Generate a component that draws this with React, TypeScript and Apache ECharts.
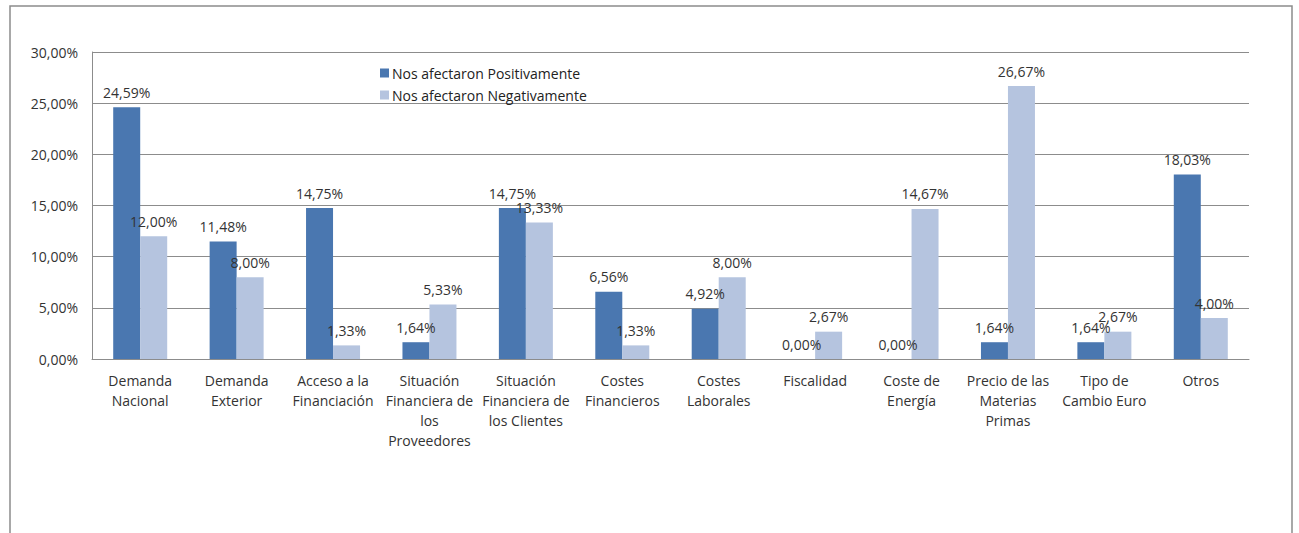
import React, { useEffect, useRef } from "react";
import * as echarts from "echarts";

const categories = [
  "Demanda\nNacional",
  "Demanda\nExterior",
  "Acceso a la\nFinanciación",
  "Situación\nFinanciera de\nlos\nProveedores",
  "Situación\nFinanciera de\nlos Clientes",
  "Costes\nFinancieros",
  "Costes\nLaborales",
  "Fiscalidad",
  "Coste de\nEnergía",
  "Precio de las\nMaterias\nPrimas",
  "Tipo de\nCambio Euro",
  "Otros",
];
const positivos = [24.59, 11.48, 14.75, 1.64, 14.75, 6.56, 4.92, 0.0, 0.0, 1.64, 1.64, 18.03];
const negativos = [12.0, 8.0, 1.33, 5.33, 13.33, 1.33, 8.0, 2.67, 14.67, 26.67, 2.67, 4.0];
const seriesNames = ["Nos afectaron Positivamente", "Nos afectaron Negativamente"];

const FONT = "'Open Sans', 'Noto Sans', sans-serif";
const fmt = (v: number) => v.toFixed(2).replace(".", ",") + "%";

export default function App() {
  const ref = useRef<HTMLDivElement>(null);
  useEffect(() => {
    document.body.style.margin = "0";
    const chart = echarts.init(ref.current!, null, { renderer: "svg" });
    const label = {
      show: true,
      position: "top" as const,
      distance: 8,
      color: "#333",
      fontFamily: FONT,
      fontSize: 14,
      formatter: (p: any) => fmt(p.value),
    };
    chart.setOption({
      animation: false,
      backgroundColor: "#fff",
      textStyle: { fontFamily: FONT },
      graphic: [
        {
          type: "rect",
          shape: { x: 10, y: 6, width: 1282, height: 540 },
          style: { fill: "none", stroke: "#8c8c8c", lineWidth: 1.5 },
          silent: true,
        },
      ],
      legend: {
        orient: "vertical",
        left: 375,
        top: 61,
        itemWidth: 9,
        itemHeight: 9,
        itemGap: 8,
        icon: "rect",
        textStyle: { fontFamily: FONT, fontSize: 14, color: "#222", padding: [0, 0, 0, -2] },
        data: seriesNames,
      },
      grid: { left: 92, right: 50, top: 52, bottom: 174, containLabel: false },
      xAxis: {
        type: "category",
        data: categories,
        axisLine: { show: true, lineStyle: { color: "#8c8c8c", width: 1 } },
        axisTick: { show: false },
        axisLabel: {
          interval: 0,
          margin: 11,
          color: "#333",
          fontFamily: FONT,
          fontSize: 14,
          lineHeight: 20,
        },
      },
      yAxis: {
        type: "value",
        min: 0,
        max: 30,
        interval: 5,
        axisLine: { show: true, lineStyle: { color: "#8c8c8c", width: 1 } },
        axisTick: { show: false },
        splitLine: { lineStyle: { color: "#8c8c8c", width: 1 } },
        axisLabel: {
          margin: 14,
          color: "#333",
          fontFamily: FONT,
          fontSize: 14,
          formatter: (v: number) => fmt(v),
        },
      },
      series: [
        {
          name: seriesNames[0],
          type: "bar",
          data: positivos,
          barWidth: 27,
          barGap: "0%",
          itemStyle: { color: "#4A77B0" },
          label,
        },
        {
          name: seriesNames[1],
          type: "bar",
          data: negativos,
          barWidth: 27,
          barGap: "0%",
          itemStyle: { color: "#B5C4DF" },
          label,
        },
      ],
    });
    return () => chart.dispose();
  }, []);
  return <div ref={ref} style={{ width: 1299, height: 533 }} />;
}
